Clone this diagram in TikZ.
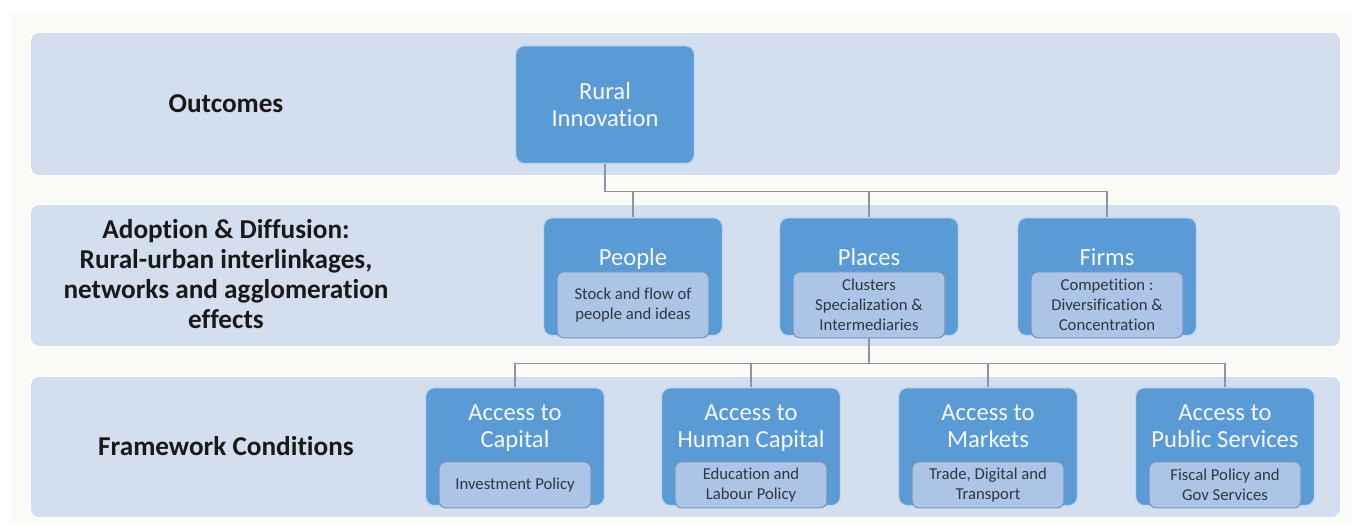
\documentclass[tikz,border=0pt]{standalone}
\usepackage{fontspec}
\setmainfont{Carlito}[Ligatures=NoCommon]
\usetikzlibrary{positioning}
\definecolor{PageTint}{RGB}{250,250,247}
\definecolor{BandBlue}{RGB}{211,222,238}
\definecolor{BoxBlue}{RGB}{91,155,213}
\definecolor{BoxEdge}{RGB}{189,215,238}
\definecolor{SubBlue}{RGB}{172,197,230}
\definecolor{SubEdge}{RGB}{118,148,190}
\definecolor{LinkGrey}{RGB}{138,148,162}
\definecolor{InkDark}{RGB}{25,25,25}
\definecolor{SubInk}{RGB}{45,55,70}

\begin{document}
\begin{tikzpicture}[x=0.02cm, y=-0.02cm,
    band/.style={fill=BandBlue, draw=white, line width=1pt, rounded corners=5pt},
    rowlabel/.style={font=\fontsize{15.5}{17}\selectfont\bfseries, text=InkDark, align=center},
    catbox/.style={fill=BoxBlue, draw=BoxEdge, line width=0.8pt, rounded corners=5pt,
        minimum width=3.58cm, minimum height=2.36cm, anchor=north, inner sep=0pt},
    cattitle/.style={font=\fontsize{14}{15.5}\selectfont, text=white!94!BoxBlue, align=center},
    boxtitle/.style={cattitle, execute at begin node=\strut, execute at end node=\strut},
    subbox/.style={fill=SubBlue, draw=SubEdge, line width=0.6pt, rounded corners=4pt,
        minimum width=3.04cm, anchor=south, align=center, inner sep=1pt,
        font=\fontsize{9.5}{11.5}\selectfont, text=SubInk},
    link/.style={draw=LinkGrey, line width=0.7pt}]

    \useasboundingbox (0,0) rectangle (1358,526);
    \fill[PageTint] (10,12) rectangle (1352,523);

    % Bands
    \draw[band] (30,32) rectangle (1341,176);
    \draw[band] (30,204) rectangle (1341,347);
    \draw[band] (30,376) rectangle (1341,518);

    % Row labels
    \node[rowlabel] (outcomes) at (226,104) {Outcomes};
    \node[rowlabel] (adoption) at (226,274) {Adoption \& Diffusion:\\Rural-urban interlinkages,\\networks and agglomeration\\effects};
    \node[rowlabel] (framework) at (226,446) {Framework Conditions};

    % Outcome
    \node[catbox, cattitle] (rural) at (605,45) {Rural\\Innovation};

    % Adoption boxes
    \node[catbox] (people) at (633,217) {};
    \node[boxtitle] (peopletitle) at ([yshift=-0.86cm]people.north) {People};
    \node[subbox, minimum height=1.32cm] (peoplesub) at ([yshift=-0.04cm]people.south) {Stock and flow of\\people and ideas};

    \node[catbox] (places) at (869,217) {};
    \node[boxtitle] (placestitle) at ([yshift=-0.86cm]places.north) {Places};
    \node[subbox, minimum height=1.32cm] (placessub) at ([yshift=-0.04cm]places.south) {Clusters\\Specialization \&\\Intermediaries};

    \node[catbox] (firms) at (1107,217) {};
    \node[boxtitle] (firmstitle) at ([yshift=-0.86cm]firms.north) {Firms};
    \node[subbox, minimum height=1.32cm] (firmssub) at ([yshift=-0.04cm]firms.south) {Competition :\\Diversification \&\\Concentration};

    % Framework boxes
    \node[catbox] (capital) at (515,387) {};
    \node[boxtitle] (capitaltitle) at ([yshift=-0.87cm]capital.north) {Access to\\Capital};
    \node[subbox, minimum height=0.92cm] (capitalsub) at ([yshift=-0.04cm]capital.south) {Investment Policy};

    \node[catbox] (human) at (751,387) {};
    \node[boxtitle] (humantitle) at ([yshift=-0.87cm]human.north) {Access to\\Human Capital};
    \node[subbox, minimum height=0.92cm] (humansub) at ([yshift=-0.04cm]human.south) {Education and\\Labour Policy};

    \node[catbox] (markets) at (988,387) {};
    \node[boxtitle] (marketstitle) at ([yshift=-0.87cm]markets.north) {Access to\\Markets};
    \node[subbox, minimum height=0.92cm] (marketssub) at ([yshift=-0.04cm]markets.south) {Trade, Digital and\\Transport};

    \node[catbox] (public) at (1225,387) {};
    \node[boxtitle] (publictitle) at ([yshift=-0.87cm]public.north) {Access to\\Public Services};
    \node[subbox, minimum height=0.92cm] (publicsub) at ([yshift=-0.04cm]public.south) {Fiscal Policy and\\Gov Services};

    % Connectors
    \coordinate (hubtop) at ([yshift=-0.54cm]rural.south);
    \draw[link] (rural.south) -- (hubtop) -| (people.north);
    \draw[link] (hubtop) -| (places.north);
    \draw[link] (hubtop) -| (firms.north);

    \coordinate (hubmid) at ([yshift=-0.5cm]placessub.south);
    \draw[link] (placessub.south) -- (hubmid);
    \foreach \n in {capital, human, markets, public}
        \draw[link] (hubmid) -| (\n.north);
\end{tikzpicture}
\end{document}
